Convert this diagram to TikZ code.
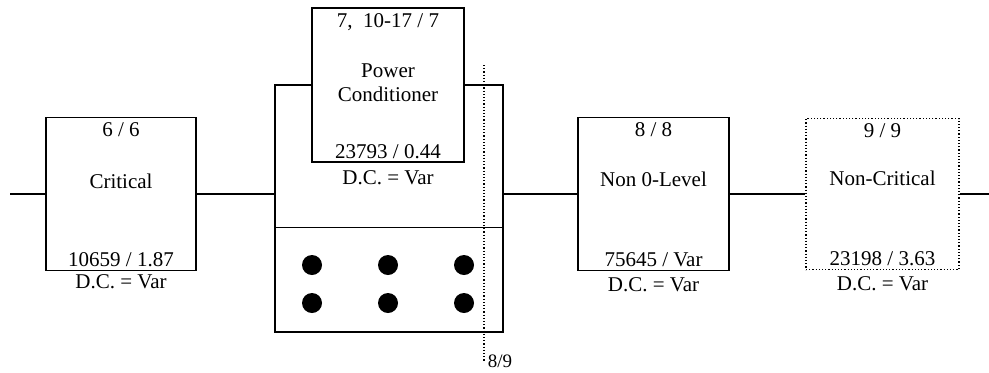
\documentclass[tikz,border=0pt]{standalone}
\usepackage{fontspec}
\setmainfont{Liberation Serif}
\usetikzlibrary{positioning}
\tikzset{
    blk/.style={draw, line width=0.6pt, inner sep=0pt, fill=white},
    txt/.style={inner sep=0pt, font=\fontsize{10.5}{12}\selectfont},
    wire/.style={line width=0.6pt},
}

\begin{document}
\begin{tikzpicture}[x=0.5pt, y=-0.5pt]
    \useasboundingbox (0,0) rectangle (989,372);
    % parallel block with the six spares
    \node[blk, minimum width=114pt, minimum height=123.5pt] (par) at (389,208.5) {};
    \draw[wire] ([yshift=-71.5pt]par.north west) -- ([yshift=-71.5pt]par.north east);
    \foreach \x in {312,388,464}
        \foreach \y in {265,303}
            \fill (\x,\y) circle[radius=5pt];
    % blocks in series
    \node[blk, minimum width=75pt, minimum height=76.5pt] (crit) at (121,194) {};
    \node[blk, minimum width=76pt, minimum height=77pt] (pc) at (388,85) {};
    \node[blk, minimum width=75.5pt, minimum height=76.5pt] (non0) at (653.5,194) {};
    \node[blk, densely dotted, minimum width=76.5pt, minimum height=75.5pt] (ncrit) at (882.5,194) {};
    % texts
    \node[txt] (crit top) at ([yshift=-6.5pt]crit.north) {6 / 6};
    \node[txt] (crit name) at ([yshift=6.5pt]crit.center) {Critical};
    \node[txt] (crit val) at ([yshift=5.5pt]crit.south) {10659 / 1.87};
    \node[txt] (crit dc) at ([yshift=-5.5pt]crit.south) {D.C. = Var};
    \node[txt] (pc top) at ([yshift=-7.5pt]pc.north) {7,\ \ 10-17 / 7};
    \node[txt, align=center] (pc name) at ([yshift=1pt]pc.center) {Power\\Conditioner};
    \node[txt] (pc val) at ([yshift=5.5pt]pc.south) {23793 / 0.44};
    \node[txt] (pc dc) at ([yshift=-7.5pt]pc.south) {D.C. = Var};
    \node[txt] (non0 top) at ([yshift=-6.5pt]non0.north) {8 / 8};
    \node[txt] (non0 name) at ([yshift=7.5pt]non0.center) {Non 0-Level};
    \node[txt] (non0 val) at ([yshift=5.5pt]non0.south) {75645 / Var};
    \node[txt] (non0 dc) at ([yshift=-7pt]non0.south) {D.C. = Var};
    \node[txt] (ncrit top) at ([yshift=-6.5pt]ncrit.north) {9 / 9};
    \node[txt] (ncrit name) at ([yshift=8pt]ncrit.center) {Non-Critical};
    \node[txt] (ncrit val) at ([yshift=5.5pt]ncrit.south) {23198 / 3.63};
    \node[txt] (ncrit dc) at ([yshift=-7pt]ncrit.south) {D.C. = Var};
    % series line
    \coordinate (in) at (10,194);
    \coordinate (out) at (989,194);
    \draw[wire] (in) -- (crit.west);
    \draw[wire] (crit.east) -- (crit.east -| par.west);
    \draw[wire] (par.east |- non0.west) -- (non0.west);
    \draw[wire] (non0.east) -- (ncrit.west);
    \draw[wire] (ncrit.east) -- (out);
    % cut between 8 and 9
    \coordinate (cut top) at (484,65);
    \coordinate (cut bot) at (484,362);
    \draw[wire, densely dotted] (cut top) -- (cut bot);
    \node[inner sep=0pt, font=\fontsize{9.5}{10}\selectfont] (cut) at (500,361) {8/9};
\end{tikzpicture}
\end{document}
